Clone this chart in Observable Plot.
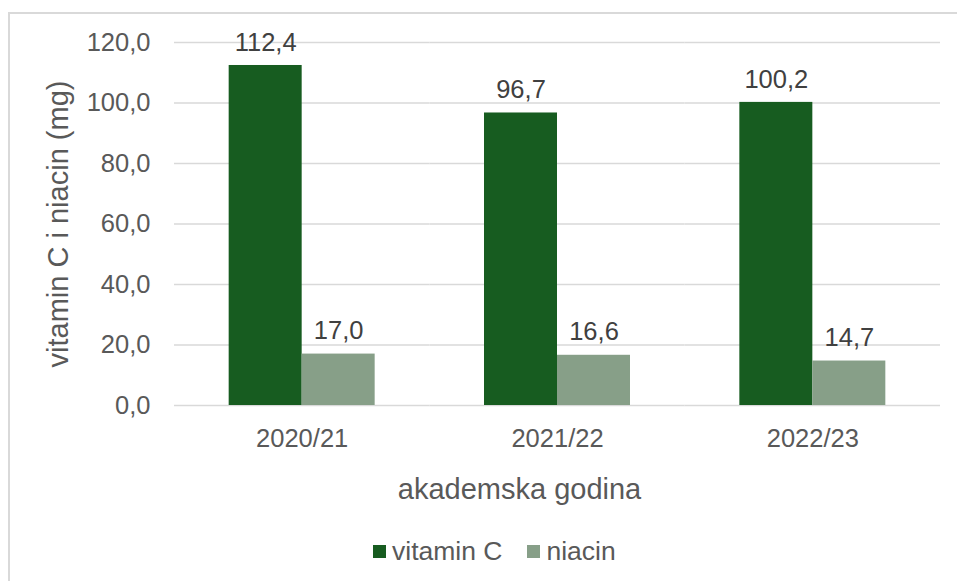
<!DOCTYPE html>
<html>
<head>
<meta charset="utf-8">
<script src="https://cdn.jsdelivr.net/npm/d3@7"></script>
<script src="https://cdn.jsdelivr.net/npm/@observablehq/plot@0.6"></script>
<style>
  html, body { margin: 0; padding: 0; background: #fff; }
  body { width: 957px; height: 581px; overflow: hidden; position: relative;
         font-family: "Liberation Sans", Arial, sans-serif; }
  #frame { position: absolute; left: 8px; top: 12px; width: 1000px; height: 1000px;
           border: 2px solid #d9d9d9; box-sizing: border-box; }
  #chart { position: absolute; left: 0; top: 0; }
  .title { position: absolute; font-size: 29px; line-height: 1; color: #595959; white-space: nowrap; }
  #ytitle { left: 57.5px; top: 224px; transform: translate(-50%, -50%) rotate(-90deg); }
  #xtitle { left: 519.5px; top: 474.5px; transform: translateX(-50%); }
  #legend { position: absolute; left: 373px; top: 537px; display: flex; align-items: center;
            font-size: 26.5px; line-height: 28px; color: #595959; }
  .sw { width: 13px; height: 13px; display: inline-block; margin-right: 6px; }
  .item { display: flex; align-items: center; margin-right: 25px; }
</style>
</head>
<body>
<div id="frame"></div>
<div id="chart"></div>
<div id="ytitle" class="title"></div>
<div id="xtitle" class="title"></div>
<div id="legend"></div>
<script>
// ---- data ----
const years = ["2020/21", "2021/22", "2022/23"];
const series = ["vitamin C", "niacin"];
const vitaminC = [112.4, 96.7, 100.2];
const niacin = [17.0, 16.6, 14.7];
const yTicks = [0, 20, 40, 60, 80, 100, 120];
const colors = ["#175c20", "#879f88"];
const yTitle = "vitamin C i niacin (mg)";
const xTitle = "akademska godina";

const data = [];
years.forEach((yr, i) => {
  data.push({year: yr, series: series[0], value: vitaminC[i]});
  data.push({year: yr, series: series[1], value: niacin[i]});
});
const fmt = v => v.toFixed(1).replace(".", ",");
const font = '"Liberation Sans", Arial, sans-serif';

const chart = Plot.plot({
  width: 957,
  height: 470,
  marginLeft: 174,
  marginRight: 17,
  marginTop: 42,
  marginBottom: 65,
  style: {fontFamily: font, background: "transparent"},
  fx: {domain: years, padding: 0, round: false},
  x: {domain: series, paddingInner: 0, paddingOuter: 0.749, round: false, axis: null},
  y: {domain: [0, 120]},
  color: {domain: series, range: colors},
  marks: [
    Plot.gridY(yTicks, {stroke: "#d9d9d9", strokeOpacity: 1, strokeWidth: 1.5}),
    Plot.axisY({ticks: yTicks, tickSize: 0, tickPadding: 24, tickFormat: fmt,
                fontSize: 25.5, color: "#595959", label: null}),
    Plot.axisFx({anchor: "bottom", tickSize: 0, tickPadding: 23, fontSize: 25.5,
                 color: "#595959", label: null}),
    Plot.barY(data, {fx: "year", x: "series", y: "value", fill: "series"}),
    Plot.text(data, {fx: "year", x: "series", y: "value", text: d => fmt(d.value),
                     dy: -23, fontSize: 25.5, fill: "#404040"})
  ]
});
document.getElementById("chart").appendChild(chart);
document.getElementById("ytitle").textContent = yTitle;
document.getElementById("xtitle").textContent = xTitle;

const legend = document.getElementById("legend");
series.forEach((s, i) => {
  const item = document.createElement("span");
  item.className = "item";
  const sw = document.createElement("span");
  sw.className = "sw";
  sw.style.background = colors[i];
  item.appendChild(sw);
  item.appendChild(document.createTextNode(s));
  legend.appendChild(item);
});
</script>
</body>
</html>
